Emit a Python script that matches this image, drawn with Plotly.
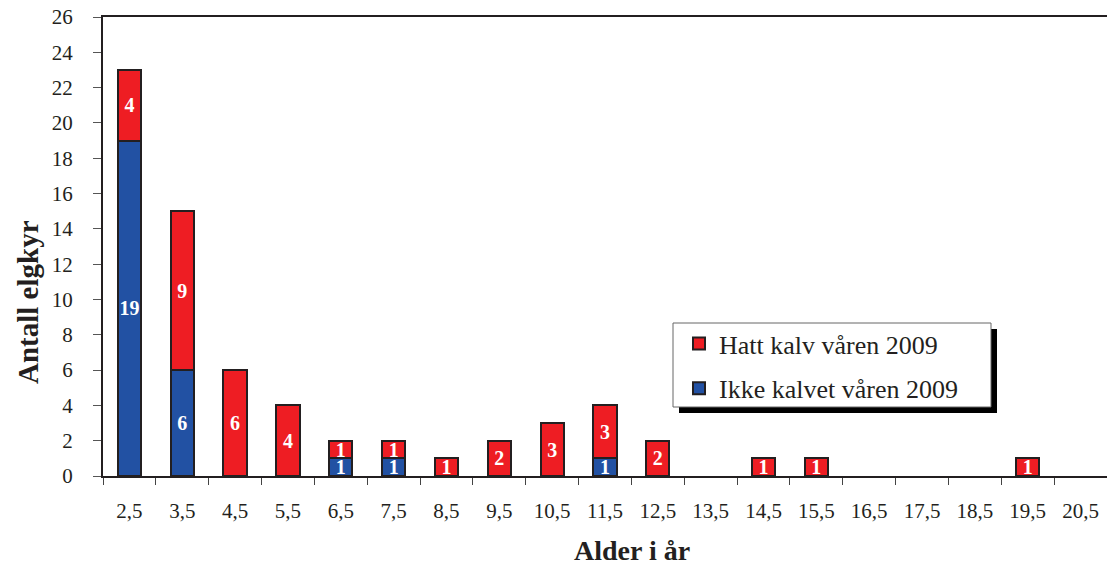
import plotly.graph_objects as go

categories = ["2,5", "3,5", "4,5", "5,5", "6,5", "7,5", "8,5", "9,5", "10,5", "11,5",
              "12,5", "13,5", "14,5", "15,5", "16,5", "17,5", "18,5", "19,5", "20,5"]
ikke_kalvet = [19, 6, 0, 0, 1, 1, 0, 0, 0, 1, 0, 0, 0, 0, 0, 0, 0, 0, 0]
hatt_kalv = [4, 9, 6, 4, 1, 1, 1, 2, 3, 3, 2, 0, 1, 1, 0, 0, 0, 1, 0]
y_ticks = list(range(0, 27, 2))

RED = "#EE1D23"
BLUE = "#2251A3"
EDGE = "#231F20"
SERIF = "Liberation Serif"


def nz(vals):
    return [v if v else None for v in vals]


def lab(vals):
    return [str(v) if v else "" for v in vals]


fig = go.Figure()
fig.add_trace(go.Bar(
    x=categories, y=nz(ikke_kalvet), name="Ikke kalvet våren 2009",
    text=lab(ikke_kalvet), textposition="inside", insidetextanchor="middle",
    constraintext="none", textangle=0,
    textfont=dict(family=SERIF, size=20, color="white", weight="bold"),
    marker=dict(color=BLUE, line=dict(color=EDGE, width=2)),
    legendgroup="b", legendrank=2,
))
fig.add_trace(go.Bar(
    x=categories, y=nz(hatt_kalv), name="Hatt kalv våren 2009",
    text=lab(hatt_kalv), textposition="inside", insidetextanchor="middle",
    constraintext="none", textangle=0,
    textfont=dict(family=SERIF, size=20, color="white", weight="bold"),
    marker=dict(color=RED, line=dict(color=EDGE, width=2)),
    legendgroup="a", legendrank=1,
))

W, H = 1107, 567
L, R, T, B = 103, 0, 17, 91
pw = W - L - R
ph = H - T - B


def px_x(x):
    return (x - L) / pw


def px_y(y):
    return (H - B - y) / ph


# legend box in pixels
bx0, by0, bx1, by1 = 673, 323, 991, 407
sh = 6

fig.update_layout(
    width=W, height=H,
    margin=dict(l=L, r=R, t=T, b=B, pad=0),
    paper_bgcolor="white", plot_bgcolor="white",
    barmode="stack", bargap=0.56,
    font=dict(family=SERIF, color="#231F20"),
    showlegend=True,
    legend=dict(
        x=px_x(679), y=px_y(320), xanchor="left", yanchor="top",
        bgcolor="rgba(0,0,0,0)", borderwidth=0,
        font=dict(family=SERIF, size=26, color="#231F20"),
        traceorder="grouped", tracegroupgap=8,
    ),
    xaxis=dict(
        type="category", showline=True, linecolor=EDGE, linewidth=2, mirror=True,
        ticks="outside", tickson="boundaries", ticklen=7, tickcolor="#444444",
        tickwidth=1, ticklabelstandoff=15,
        tickfont=dict(family=SERIF, size=21, color="#231F20"),
        showgrid=False, zeroline=False, range=[-0.5, 18.5],
    ),
    yaxis=dict(
        range=[0, 26], tickvals=y_ticks, showline=True, linecolor=EDGE, linewidth=2,
        ticks="outside", ticklen=8, tickcolor="#555555", tickwidth=1,
        ticklabelstandoff=16,
        tickfont=dict(family=SERIF, size=21, color="#231F20"),
        showgrid=False, zeroline=False,
    ),
    shapes=[
        dict(type="rect", xref="paper", yref="paper",
             x0=px_x(bx0 + sh), x1=px_x(bx1 + sh), y0=px_y(by1 + sh), y1=px_y(by0 + sh),
             fillcolor="black", line=dict(width=0), layer="above"),
        dict(type="rect", xref="paper", yref="paper",
             x0=px_x(bx0), x1=px_x(bx1), y0=px_y(by1), y1=px_y(by0),
             fillcolor="white", line=dict(width=1, color="#666666"), layer="above"),
    ],
    annotations=[
        dict(text="<b>Alder i år</b>", xref="paper", yref="paper",
             x=px_x(632), y=px_y(550), xanchor="center", yanchor="middle",
             showarrow=False, font=dict(family=SERIF, size=28, color="#231F20")),
        dict(text="<b>Antall elgkyr</b>", xref="paper", yref="paper",
             x=px_x(28), y=px_y(302), xanchor="center", yanchor="middle",
             textangle=-90, showarrow=False,
             font=dict(family=SERIF, size=29, color="#231F20")),
    ],
)

fig.write_html("out.html")
